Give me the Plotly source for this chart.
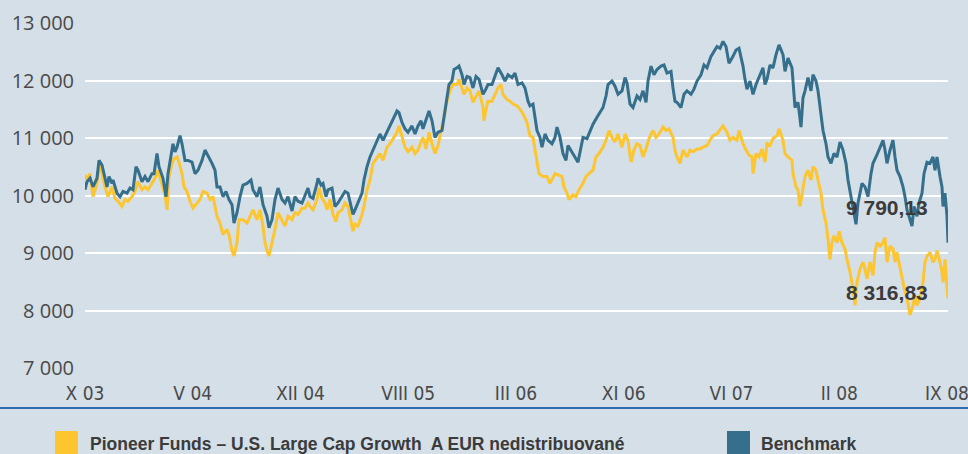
import plotly.graph_objects as go

# ---------------- data ----------------
tick_labels = ["X 03", "V 04", "XII 04", "VIII 05", "III 06", "XI 06", "VI 07", "II 08", "IX 08"]

fund_name = "Pioneer Funds – U.S. Large Cap Growth  A EUR nedistribuované"
bench_name = "Benchmark"
final_labels = [9790.13, 8316.83]  # benchmark, fund

bench_day = [0, 2, 5, 8, 12, 14, 17, 19, 22, 24, 27, 28, 32, 35, 38, 42, 45, 48, 51, 53, 57, 60, 63, 67, 69, 72, 74, 78, 81, 83, 86, 88, 90, 92, 95, 97, 100, 103, 107, 110, 113, 117, 120, 123, 127, 130, 132, 135, 138, 141, 144, 147, 149, 152, 155, 158, 162, 166, 168, 172, 175, 178, 182, 184, 187, 190, 193, 197, 200, 203, 207, 210, 213, 217, 220, 223,
             225, 228, 232, 233, 236, 238, 241, 243, 247, 250, 253, 257, 260, 263, 266, 268, 270, 273, 277, 279, 282, 285, 288, 292, 295, 298, 302, 305, 308, 312, 314, 317, 320, 323, 327, 330, 333, 336, 338, 341, 344, 347, 350, 353, 357, 359, 362, 364, 367, 369, 372, 374, 377, 379, 382, 385, 388, 391, 394, 398, 400, 403, 407, 410, 413, 417, 420, 423, 427, 430, 433, 437, 440, 443,
             445, 448, 450, 452, 455, 457, 460, 463, 467, 470, 472, 475, 478, 481, 483, 487, 490, 493, 496, 498, 502, 505, 508, 512, 515, 518, 521, 523, 527, 530, 533, 537, 540, 542, 545, 548, 552, 555, 558, 561, 563, 566, 569, 572, 576, 579, 582, 586, 588, 590, 592, 596, 599, 602, 606, 609, 612, 616, 619, 622, 626, 629, 632, 635, 638, 641, 644, 648, 651, 654, 658, 660, 662, 665, 668, 671, 674, 678, 680, 682, 685, 688, 691, 694,
             698, 700, 703, 707, 708, 710, 713, 716, 718, 720, 723, 726, 728, 731, 733, 736, 738, 741, 743, 746, 749, 752, 755, 758, 761, 763, 766, 768, 771, 773, 777, 780, 783, 786, 788, 791, 794, 798, 800, 802, 805, 808, 810, 812, 815, 818, 820, 822, 824, 827, 829, 832, 834, 837, 839, 842, 845, 848, 850, 852, 855, 857, 858, 860, 862, 863]
bench_val = [10100, 10240, 10300, 10150, 10300, 10610, 10530, 10380, 10150, 10330, 10210, 10270, 10040, 9980, 10070, 10040, 10130, 10100, 10500, 10440, 10240, 10330, 10240, 10380, 10380, 10730, 10500, 10300, 9980, 10380, 10730, 10900, 10760, 10840, 11040, 10900, 10610, 10610, 10580, 10380, 10440, 10610, 10790, 10700, 10560, 10440, 10150, 10150, 9980, 10070, 9930, 9840, 9520, 9700, 9980, 10180, 10210, 10270, 10100, 9980, 10150, 9840, 9640, 9440, 9580, 9930, 10130, 9930, 9870, 9980, 9730, 9980, 9900, 9870, 10010, 10130,
             9980, 9950, 10210, 10300, 10180, 10210, 9980, 10100, 10130, 9810, 9870, 9980, 10070, 10040, 9810, 9670, 9750, 9870, 10040, 10270, 10500, 10670, 10790, 10960, 11070, 10960, 11100, 11210, 11330, 11470, 11440, 11270, 11160, 11100, 11210, 11070, 11210, 11300, 11160, 11300, 11470, 11300, 11010, 11100, 11130, 11360, 11760, 11930, 11990, 12190, 12220, 12250, 12100, 11930, 12070, 12050, 11870, 12070, 12020, 11760, 11820, 11930, 11930, 12070, 12220, 12100, 11990, 12100, 12050, 12130, 11930, 11960, 11870, 11640,
             11560, 11590, 11360, 11130, 11010, 10840, 11070, 10960, 10900, 11010, 11190, 11010, 10730, 10610, 10870, 10760, 10670, 10580, 10840, 11010, 10990, 11130, 11240, 11360, 11440, 11530, 11730, 11930, 11990, 11900, 11760, 11820, 12050, 11960, 11590, 11530, 11730, 11670, 11820, 11620, 11990, 12250, 12100, 12190, 12250, 12270, 12130, 12160, 11870, 11640, 11620, 11530, 11760, 11820, 11760, 11850, 11990, 12100, 12270, 12220, 12420, 12500, 12590, 12560, 12680, 12590, 12300, 12420, 12530, 12560, 12250, 12020, 11850, 11990, 11760, 11930, 12050, 12220, 11930, 12020, 12270, 12220, 12450, 12620,
             12450, 12160, 12390, 12220, 11990, 11530, 11620, 11190, 11700, 11820, 12050, 11820, 12100, 11990, 11820, 11360, 11130, 10900, 10670, 10560, 10730, 10670, 10930, 10790, 10560, 10270, 9980, 9750, 9500, 9870, 10210, 10150, 9980, 10380, 10560, 10670, 10790, 10960, 10790, 10560, 10790, 10960, 10670, 10440, 10330, 10150, 9980, 9750, 9640, 9470, 9810, 9640, 9870, 10040, 10380, 10580, 10560, 10670, 10440, 10670, 10330, 10150, 9810, 10040, 9640, 9180]

fund_day = [0, 2, 5, 8, 12, 14, 17, 20, 23, 27, 30, 33, 37, 40, 43, 47, 50, 53, 57, 60, 63, 67, 70, 73, 77, 80, 82, 84, 87, 89, 92, 94, 97, 99, 102, 105, 108, 112, 115, 118, 122, 125, 128, 132, 135, 138, 142, 144, 147, 149, 152, 154, 158, 162, 165, 168, 172, 175, 178, 180, 182, 184, 187, 190, 193, 197, 200, 203, 207, 210, 213, 217, 220, 223,
            225, 228, 232, 234, 237, 240, 242, 245, 248, 251, 253, 257, 260, 263, 266, 268, 270, 273, 277, 279, 282, 285, 288, 292, 295, 298, 302, 305, 308, 312, 314, 317, 320, 323, 327, 330, 333, 336, 338, 341, 344, 347, 350, 353, 357, 359, 362, 365, 368, 372, 374, 377, 379, 382, 385, 388, 391, 394, 398, 399, 401, 403, 407, 410, 413, 416, 418, 422, 425, 428, 432, 435, 438, 442, 445, 448, 452, 454,
            458, 462, 465, 468, 470, 473, 477, 479, 482, 484, 488, 491, 494, 498, 501, 504, 508, 511, 514, 518, 521, 524, 527, 530, 533, 537, 540, 543, 546, 549, 552, 555, 558, 561, 564, 568, 571, 574, 578, 581, 584, 588, 590, 592, 595, 598, 602, 605, 608, 612, 615, 618, 622, 625, 628, 632, 635, 638, 642, 645, 648, 652, 654, 658, 661, 664, 667, 668, 671, 674, 677, 680, 682, 685, 688, 692, 694,
            698, 700, 703, 707, 708, 711, 713, 715, 718, 720, 723, 726, 728, 731, 733, 736, 738, 741, 743, 745, 747, 749, 752, 754, 757, 760, 762, 765, 768, 770, 772, 775, 778, 780, 782, 785, 788, 790, 792, 795, 798, 800, 802, 805, 808, 810, 812, 815, 818, 820, 822, 825, 828, 830, 832, 835, 838, 840, 842, 845, 848, 850, 852, 855, 857, 858, 860, 862, 863]
fund_val = [10360, 10270, 10380, 9980, 10210, 10530, 10380, 10150, 9980, 10150, 9950, 9900, 9810, 9930, 9900, 9980, 10070, 10240, 10100, 10150, 10100, 10210, 10300, 10440, 10210, 10010, 9750, 10330, 10560, 10640, 10670, 10580, 10380, 10150, 10070, 9900, 9780, 9870, 9930, 10070, 10040, 9930, 9980, 9640, 9520, 9320, 9410, 9320, 9040, 8950, 9180, 9580, 9580, 9520, 9640, 9750, 9580, 9750, 9470, 9180, 9040, 8950, 9180, 9410, 9700, 9580, 9470, 9640, 9580, 9700, 9670, 9780, 9780, 9870,
            9810, 9750, 9930, 10130, 9950, 9870, 9750, 9930, 9670, 9550, 9700, 9750, 9870, 9810, 9580, 9380, 9500, 9470, 9670, 9810, 10100, 10270, 10560, 10670, 10730, 10610, 10840, 10900, 10990, 11100, 11210, 11010, 10840, 10760, 10840, 10730, 10790, 10930, 11010, 10810, 11100, 10900, 10730, 10870, 11160, 11360, 11640, 11820, 11930, 11930, 12020, 11870, 11760, 11870, 11820, 11620, 11730, 11820, 11530, 11300, 11500, 11640, 11640, 11760, 11870, 11930, 11760, 11670, 11640, 11590, 11560, 11500, 11420, 11270, 11040, 11010, 10610, 10380,
            10330, 10330, 10210, 10330, 10380, 10360, 10330, 10150, 10040, 9930, 10010, 9980, 10100, 10210, 10330, 10380, 10440, 10670, 10730, 10840, 10960, 11130, 11010, 10930, 11070, 10840, 11070, 10960, 10580, 10790, 10900, 10870, 10670, 10810, 10990, 11130, 11010, 11070, 11190, 11130, 11160, 11010, 10790, 10670, 10560, 10790, 10670, 10790, 10760, 10810, 10810, 10840, 10870, 10960, 11040, 11070, 11130, 11210, 11100, 10960, 11010, 10960, 11130, 10900, 10790, 10700, 10670, 10380, 10730, 10670, 10810, 10580, 10900, 10870, 10990, 11040, 11160,
            10960, 10730, 10670, 10610, 10380, 10150, 10100, 9810, 10100, 10330, 10440, 10270, 10500, 10440, 10270, 10040, 9750, 9520, 9240, 8890, 9180, 9300, 9180, 9380, 9180, 9070, 8890, 8670, 8380, 8090, 8490, 8720, 8840, 8720, 8550, 8840, 8610, 9010, 9180, 9120, 9180, 9270, 8840, 9120, 9070, 8840, 9010, 8720, 8490, 8320, 8210, 7920, 8090, 8260, 8090, 8210, 8490, 8840, 8950, 9010, 8840, 8890, 9040, 8840, 8670, 8490, 8890, 8380, 8210]

# ---------------- styling ----------------
BG = "#d4dfe7"
YELLOW = "#fdc52f"
BLUE = "#356f8c"
RULE = "#2b6cae"
TEXT = "#4a4a4a"
BOLD_TEXT = "#3b3b3b"
NARROW = "Liberation Sans Narrow, DejaVu Sans Condensed, Arial Narrow, sans-serif"

W, H = 968, 454
ML, MR, MT, MB = 85, 20, 23, 86
PW, PH = W - ML - MR, H - MT - MB


def px(xp):
    return (xp - ML) / PW


def py(yp):
    return (H - MB - yp) / PH


fig = go.Figure()
fig.add_trace(go.Scatter(x=fund_day, y=fund_val, mode="lines", name=fund_name,
                         line=dict(color=YELLOW, width=3), showlegend=False, hoverinfo="skip"))
fig.add_trace(go.Scatter(x=bench_day, y=bench_val, mode="lines", name=bench_name,
                         line=dict(color=BLUE, width=3), showlegend=False, hoverinfo="skip"))

last_day = max(bench_day[-1], fund_day[-1])
n = len(tick_labels)
tickvals = [i * (last_day - 1) / (n - 1) for i in range(n)]

fig.update_layout(
    width=W, height=H,
    margin=dict(l=ML, r=MR, t=MT, b=MB, autoexpand=False),
    paper_bgcolor=BG, plot_bgcolor=BG,
    separators=", ",
    xaxis=dict(range=[0, last_day], tickvals=tickvals, ticktext=tick_labels,
               showgrid=False, zeroline=False, showline=False,
               ticks="outside", ticklen=8, tickcolor="rgba(0,0,0,0)",
               ticklabeloverflow="allow", automargin=False,
               tickfont=dict(family=NARROW, size=19, color=TEXT)),
    yaxis=dict(range=[7000, 13000], dtick=1000, tick0=7000, tickformat=",d",
               showgrid=True, gridcolor="white", gridwidth=2,
               zeroline=False, showline=False, automargin=False,
               ticks="outside", ticklen=6, tickcolor="rgba(0,0,0,0)",
               tickfont=dict(family="Open Sans, sans-serif", size=20, color=TEXT)),
)

# horizontal rule above the legend
fig.add_shape(type="line", xref="paper", yref="paper",
              x0=px(0), x1=px(W), y0=py(408), y1=py(408),
              line=dict(color=RULE, width=2))

# legend: coloured squares + bold labels
for x0, x1, col in [(55, 78, YELLOW), (727, 750, BLUE)]:
    fig.add_shape(type="rect", xref="paper", yref="paper",
                  x0=px(x0), x1=px(x1), y0=py(431), y1=py(470),
                  line=dict(width=0), fillcolor=col)
for xl, txt in [(88, fund_name), (759, bench_name)]:
    fig.add_annotation(xref="paper", yref="paper", x=px(xl), y=py(432),
                       xanchor="left", yanchor="top", showarrow=False, text=txt,
                       font=dict(family="Liberation Sans, Arial, sans-serif", size=17.5,
                                 color=BOLD_TEXT, weight="bold"))


def fmt(v):
    s = f"{v:,.2f}"
    return s.replace(",", " ").replace(".", ",")


# final-value labels (placed at their own value on the y axis)
for v in final_labels:
    fig.add_annotation(x=802, y=v, xref="x", yref="y", showarrow=False, text=fmt(v),
                       xanchor="center", yanchor="middle",
                       font=dict(family="Liberation Sans, Arial, sans-serif", size=21,
                                 color=BOLD_TEXT, weight="bold"))

fig.write_html(
    "out.html",
    config={"displayModeBar": False},
    post_script="document.body.style.margin='0';document.body.style.background='%s';" % BG,
)
